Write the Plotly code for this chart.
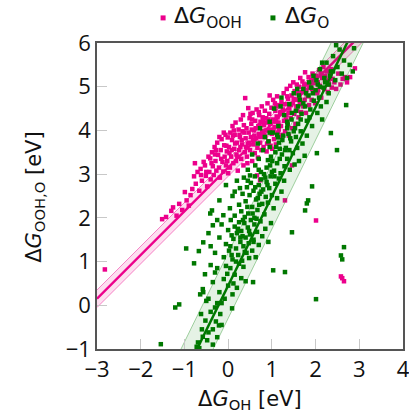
import plotly.graph_objects as go

# ---------------- data ----------------
ooh_x = [-2.82, 2.01, 2.58, 2.61, 2.65,
         -1.51, -1.42, -1.30, -1.26, -1.18, -1.12, -1.05, -0.99, -0.95, -0.90, -0.86, -0.82,
         -0.78, -0.76, -0.74, -0.70, -0.66, -0.63, -0.60, -0.56, -0.53, -0.51, -0.48, -0.45, -0.43, -0.41, -0.40,
         -0.37, -0.35, -0.33, -0.31, -0.29, -0.27, -0.25, -0.23, -0.21, -0.19, -0.17, -0.15, -0.13, -0.11, -0.09,
         -0.08, -0.06, -0.05, -0.03, -0.01, 0.00, -0.20, -0.30, -0.10, -0.02,
         0.02, 0.04, 0.05, 0.07, 0.09, 0.10, 0.12, 0.14, 0.15, 0.17, 0.19, 0.20, 0.22, 0.24, 0.25, 0.27, 0.29,
         0.30, 0.32, 0.33, 0.35, 0.36, 0.38, 0.39, 0.40, 0.08, 0.18, 0.28, 0.13, 0.34,
         0.42, 0.43, 0.45, 0.46, 0.47, 0.49, 0.50, 0.52, 0.53, 0.55, 0.56, 0.58, 0.59, 0.61, 0.62, 0.64, 0.65,
         0.66, 0.67, 0.69, 0.70, 0.71, 0.73, 0.73, 0.74, 0.76, 0.77, 0.78, 0.79, 0.44, 0.51, 0.57, 0.63, 0.68, 0.75,
         0.81, 0.82, 0.84, 0.85, 0.87, 0.88, 0.90, 0.91, 0.93, 0.94, 0.96, 0.97, 0.99, 1.00, 1.02, 1.03, 1.05,
         1.06, 1.08, 1.09, 1.11, 1.12, 1.14, 1.15, 1.17, 1.18, 1.19, 0.86, 0.95, 1.01, 1.07, 1.16,
         1.21, 1.22, 1.24, 1.25, 1.27, 1.28, 1.30, 1.30, 1.31, 1.33, 1.34, 1.36, 1.37, 1.39, 1.40, 1.42, 1.43,
         1.45, 1.46, 1.46, 1.48, 1.49, 1.51, 1.52, 1.54, 1.55, 1.57, 1.58, 1.59,
         1.61, 1.62, 1.64, 1.65, 1.67, 1.68, 1.70, 1.72, 1.73, 1.75, 1.76, 1.78, 1.80, 1.82, 1.84, 1.85, 1.87,
         1.89, 1.91, 1.93, 1.95, 1.97, 1.99,
         2.02, 2.04, 2.06, 2.08, 2.10, 2.13, 2.15, 2.18, 2.20, 2.23, 2.26, 2.28, 2.31, 2.34, 2.37, 2.39,
         2.43, 2.47, 2.52, 2.57, 2.62, 2.67, 2.72, 2.79, 2.90]
ooh_y = [0.82, 1.94, 0.66, 0.62, 0.55,
         1.97, 2.02, 2.16, 2.24, 2.05, 2.32, 2.18, 2.59, 2.40, 2.28, 2.52, 2.66,
         2.95, 3.25, 2.78, 3.05, 2.62, 3.12, 2.85, 3.28, 3.20, 2.96, 2.72, 3.40, 3.05, 3.36, 2.88,
         3.50, 3.18, 2.98, 3.62, 3.30, 3.08, 3.72, 3.44, 3.15, 2.92, 3.55, 3.80, 3.28, 3.06, 3.66,
         3.40, 3.90, 3.20, 3.52, 3.84, 3.02, 3.85, 3.45, 3.95, 3.30,
         3.62, 3.15, 3.95, 3.40, 3.78, 4.10, 3.25, 3.58, 3.90, 4.18, 3.45, 3.72, 3.08, 4.02, 3.55, 3.85, 4.25,
         3.35, 3.68, 3.98, 3.20, 4.12, 3.50, 4.74, 3.82, 3.55, 3.30, 3.62, 4.00, 4.35,
         4.05, 3.40, 3.70, 4.51, 3.95, 4.28, 3.55, 3.85, 4.15, 3.30, 4.40, 3.68, 4.00, 3.48, 4.22, 3.82, 4.48,
         2.97, 3.60, 4.10, 3.92, 4.35, 2.86, 3.72, 4.20, 3.55, 4.55, 3.98, 4.30, 3.25, 4.38, 3.78, 4.05, 3.38, 3.85,
         3.62, 4.12, 4.45, 3.85, 4.28, 3.52, 4.62, 4.00, 3.75, 4.38, 4.15, 3.65, 4.52, 3.92, 4.25, 4.70, 3.80,
         4.08, 4.45, 3.68, 4.32, 4.78, 3.95, 4.18, 4.58, 3.85, 4.40, 4.00, 4.80, 3.58, 4.62, 4.02,
         4.10, 4.65, 3.90, 4.48, 4.85, 4.22, 2.40, 3.98, 4.60, 4.35, 4.95, 4.12, 4.72, 3.88, 4.50, 5.02, 4.28,
         4.80, 3.20, 4.05, 4.62, 5.10, 4.38, 4.90, 4.15, 4.70, 5.05, 4.45, 4.85,
         4.30, 5.00, 4.60, 5.20, 4.42, 4.88, 5.12, 4.55, 4.95, 4.70, 5.33, 4.40, 5.05, 4.78, 5.22, 4.58, 4.98,
         5.15, 4.70, 5.30, 4.88, 5.08, 4.62,
         5.25, 4.85, 4.92, 5.38, 5.02, 4.75, 5.20, 5.45, 4.95, 5.12, 5.35, 4.88, 5.05, 5.28, 4.98, 5.18,
         5.10, 4.95, 5.30, 5.05, 5.18, 5.22, 5.10, 5.22, 5.42]
ooh_x_extra = [0.03, 0.11, 0.21, 0.31, 0.41, 0.48, 0.54, 0.60, 0.72, 0.80, 0.83, 0.89, 0.92, 0.98, 1.04,
               1.10, 1.13, 1.20, 1.26, 1.32, 1.38, 1.44, 1.50, 1.56, 1.63, 1.69, 1.74, 1.79, 1.86, 1.92,
               1.98, 2.05, 2.12, 2.22, 2.30, 2.36, -0.62, -0.50, -0.38, -0.28, -0.16, -0.04, 0.16, 0.26,
               0.37, 0.55, 0.70, 0.88, 1.10, 1.35]
ooh_y_extra = [3.48, 3.88, 3.40, 3.78, 3.62, 3.72, 4.02, 3.88, 4.12, 4.22, 3.90, 3.70, 4.25, 4.02, 3.98,
               4.55, 4.30, 4.42, 4.60, 4.25, 4.40, 4.58, 4.72, 4.55, 4.78, 4.62, 5.05, 4.92, 5.08, 4.95,
               5.18, 5.10, 5.30, 5.25, 5.15, 5.40, 2.98, 3.05, 3.25, 3.55, 3.35, 3.65, 3.70, 3.90,
               3.95, 4.25, 4.42, 4.18, 4.20, 4.78]

o_x = [-1.54, -1.21, -1.12, 2.01, 2.65, 2.58, 2.61, 1.92, 1.83, 1.80, 1.76, 2.03, 2.49, 2.35, 2.70, 2.88,
       1.46, 1.03, 1.30, -0.96, -0.78, -0.67, -0.57, -0.53, -0.37, -0.57, -0.41, -0.35,
       -0.69, -0.72, -0.66, -0.48, -0.25, -0.28, -0.21, -0.25, -0.60, -0.52, -0.45, -0.40, -0.35, -0.18, -0.62,
       -0.30, -0.58,
       -0.64, -0.58, -0.35, -0.45, -0.30, -0.20, -0.10, -0.15, 0.00, 0.09, 0.05, 0.15, 0.20, 0.25, -0.05, 0.10,
       0.30, 0.40, 0.57, -0.25, 0.35, -0.40, 0.12, -0.08,
       -0.45, -0.30, -0.20, -0.15, -0.10, -0.05, 0.00, 0.02, 0.06, 0.10, 0.12, 0.15, 0.18, 0.20, 0.23, 0.25,
       0.28, 0.30, 0.32, 0.35, 0.37, 0.40, 0.42, 0.45, 0.47, 0.50, 0.52, 0.55, 0.58, 0.60, 0.63, 0.66, 0.70,
       0.74, 0.78, 0.85, 0.92, 0.98, -0.25, 0.08, 0.33, 0.48, 0.65, -0.40,
       -0.11, 0.04, 0.27, 0.50, -0.20, -0.05, 0.10, 0.15, 0.20, 0.25, 0.30, 0.33, 0.36, 0.40, 0.43, 0.46, 0.49,
       0.52, 0.55, 0.58, 0.61, 0.64, 0.67, 0.70, 0.72, 0.75, 0.78, 0.80, 0.83, 0.86, 0.88, 0.91, 0.94, 0.97,
       1.00, 1.04, 1.08, 1.12, 1.16, 1.22, 1.28, 0.38, 0.60, 0.85, 0.15, 0.68,
       0.73, 0.91, 1.14, 0.45, 0.55, 0.62, 0.68, 0.75, 0.80, 0.84, 0.88, 0.95, 0.98, 1.02, 1.05, 1.08, 1.12,
       1.16, 1.20, 1.23, 1.26, 1.29, 1.32, 1.35, 1.38, 1.41, 1.44, 1.48, 1.52, 1.55, 1.58, 1.62, 1.66, 1.70,
       1.75, 1.80, 0.95, 1.00, 1.18, 1.40, 0.70, 1.50,
       0.95, 1.05, 1.15, 1.22, 1.28, 1.35, 1.40, 1.45, 1.50, 1.55, 1.60, 1.64, 1.68, 1.72, 1.76, 1.80, 1.84,
       1.88, 1.92, 1.96, 2.00, 2.04, 2.08, 2.12, 2.18, 2.25, 2.30, 1.58, 1.90, 2.15,
       1.85, 1.95, 2.05, 2.10, 2.20, 2.25, 2.30, 2.35, 2.40, 2.45, 2.50, 2.55, 2.60, 2.65, 2.72, 2.78, 2.85, 2.47]
o_y = [-0.89, -0.05, 0.02, 0.14, 1.33, 1.14, 1.05, 2.72, 2.40, 2.33, 2.17, 3.48, 3.55, 3.94, 4.58, 5.88,
       1.67, 0.80, 0.76, 1.30, 0.96, 1.24, 1.44, 0.71, 2.17, 0.30, 2.10, 1.83,
       -0.85, -0.95, -0.98, -0.80, -0.73, -0.37, -0.46, 0.05, -0.55, -0.35, -0.62, -0.15, -0.90, -0.20, -0.20,
       -0.05, -0.72,
       0.25, 0.37, 0.53, 0.15, 0.75, 0.30, 0.60, 0.05, 0.45, -0.07, 0.85, 0.70, 0.40, 0.95, 0.90, 0.25,
       0.62, 0.55, 0.53, 0.85, 0.88, 0.92, 0.50, 0.15,
       1.65, 1.20, 1.55, 1.85, 1.10, 1.40, 1.72, 1.25, 1.95, 1.05, 1.52, 1.80, 1.30, 1.65, 1.15, 1.90,
       1.45, 1.70, 1.02, 1.35, 1.88, 1.55, 1.20, 1.78, 1.42, 1.62, 1.95, 1.25, 1.50, 1.85, 1.10, 1.68, 1.38,
       1.92, 1.58, 1.75, 1.45, 1.88, 1.95, 1.60, 1.58, 1.08, 1.98, 1.35,
       2.06, 2.22, 2.68, 2.97, 2.40, 2.75, 2.50, 2.05, 2.85, 2.30, 2.15, 2.55, 2.92, 2.38, 2.70, 2.10, 2.52,
       2.80, 2.25, 2.62, 2.95, 2.42, 2.18, 2.75, 2.55, 2.88, 2.32, 2.65, 2.08, 2.48, 2.82, 2.35, 2.68, 2.95,
       2.52, 2.22, 2.78, 2.45, 2.90, 2.60, 2.85, 2.02, 2.00, 2.92, 2.60, 2.45,
       4.05, 3.32, 3.84, 3.10, 3.45, 3.20, 3.70, 3.05, 3.55, 3.85, 3.15, 3.62, 3.40, 3.95, 3.08, 3.50, 3.25,
       3.72, 3.02, 3.45, 3.88, 3.18, 3.60, 3.35, 3.92, 3.10, 3.75, 3.48, 3.22, 3.85, 3.60, 3.30, 3.98, 3.70,
       3.42, 3.88, 3.95, 3.05, 3.58, 3.55, 3.35, 3.98,
       4.20, 4.50, 4.10, 4.75, 4.35, 4.05, 4.60, 4.25, 4.85, 4.45, 4.15, 4.70, 4.38, 4.95, 4.55, 4.22, 4.80,
       4.48, 4.10, 4.68, 4.92, 4.40, 4.75, 4.55, 4.98, 4.65, 4.85, 4.95, 4.98, 4.25,
       5.10, 5.25, 5.05, 5.40, 5.20, 5.55, 5.05, 5.35, 5.70, 5.15, 5.45, 5.85, 5.30, 5.60, 5.20, 5.50, 5.35, 5.95]
o_x_extra = [0.22, 0.34, 0.44, 0.56, 0.62, 0.71, 0.76, 0.82, 0.90, 0.96, 1.01, 1.06, 1.10, 1.18, 1.24,
             1.30, 1.36, 1.42, 1.46, 1.53, 1.60, 1.66, 1.72, 1.78, 1.86, 1.94, 2.02, 2.10, 2.22, 2.33,
             0.05, 0.18, 0.28, 0.38, 0.48, 0.58, -0.02, 0.08, -0.35, -0.50, -0.15, 0.45, 0.70, 1.12,
             1.35, 1.62, 2.15, 2.40, 0.92, 1.20]
o_y_extra = [1.75, 1.95, 2.25, 2.10, 2.70, 2.30, 2.60, 3.00, 2.75, 3.20, 3.30, 2.95, 3.62, 3.35, 3.78,
             3.55, 4.15, 3.82, 4.40, 4.05, 4.55, 4.25, 4.62, 4.85, 4.30, 4.85, 5.15, 5.00, 5.10, 5.25,
             1.35, 1.00, 1.55, 1.22, 1.70, 1.45, 0.72, 1.15, -0.55, 0.10, -0.45, 2.85, 3.10, 3.90,
             4.20, 4.80, 5.55, 5.35, 3.75, 4.55]

# regression fits (slope, intercept, band half-height)
ooh_fit = (1.00, 3.15, 0.20)
o_fit = (2.04, 0.45, 0.75)
fit_x = [-3.0, 4.0]

legend_names = ["Δ<i>G</i><sub>OOH</sub>", "Δ<i>G</i><sub>O</sub>"]
x_title = "Δ<i>G</i><sub>OH</sub> [eV]"
y_title = "Δ<i>G</i><sub>OOH,O</sub> [eV]"
x_ticks = [-3, -2, -1, 0, 1, 2, 3, 4]
y_ticks = [-1, 0, 1, 2, 3, 4, 5, 6]

PINK = "#EC008C"
GREEN = "#007800"
TITLE_FONT = "DejaVu Sans"

fig = go.Figure()


def add_fit(fit, color, fill, edge, width):
    m, b, h = fit
    xs = fit_x
    up = [m * x + b + h for x in xs]
    lo = [m * x + b - h for x in xs]
    fig.add_trace(go.Scatter(x=xs + xs[::-1], y=up + lo[::-1], fill="toself", fillcolor=fill,
                             mode="lines", line=dict(color="rgba(0,0,0,0)", width=0),
                             showlegend=False, hoverinfo="skip"))
    fig.add_trace(go.Scatter(x=xs, y=up, mode="lines", line=dict(color=edge, width=1),
                             showlegend=False, hoverinfo="skip"))
    fig.add_trace(go.Scatter(x=xs, y=lo, mode="lines", line=dict(color=edge, width=1),
                             showlegend=False, hoverinfo="skip"))
    fig.add_trace(go.Scatter(x=xs, y=[m * x + b for x in xs], mode="lines",
                             line=dict(color=color, width=width),
                             showlegend=False, hoverinfo="skip"))


add_fit(ooh_fit, PINK, "rgba(236,0,140,0.13)", "rgba(236,0,140,0.45)", 2.5)

fig.add_trace(go.Scatter(x=ooh_x + ooh_x_extra, y=ooh_y + ooh_y_extra, mode="markers",
                         name=legend_names[0], showlegend=False,
                         marker=dict(symbol="square", size=4.5, color=PINK, line=dict(width=0))))

add_fit(o_fit, GREEN, "rgba(0,128,0,0.10)", "rgba(0,128,0,0.35)", 2.5)

fig.add_trace(go.Scatter(x=o_x + o_x_extra, y=o_y + o_y_extra, mode="markers",
                         name=legend_names[1], showlegend=False,
                         marker=dict(symbol="square", size=4.5, color=GREEN, line=dict(width=0))))

# manual legend (marker squares + labels) above the plot
leg_items = [(PINK, 0.216, 0.245, legend_names[0]), (GREEN, 0.575, 0.608, legend_names[1])]
for col, xm, xt, txt in leg_items:
    fig.add_shape(type="rect", xref="paper", yref="paper", xsizemode="pixel", ysizemode="pixel",
                  xanchor=xm, yanchor=1.082, x0=-2.5, x1=2.5, y0=-2.5, y1=2.5,
                  fillcolor=col, line=dict(width=0))
    fig.add_annotation(xref="paper", yref="paper", x=xt, y=1.082, xanchor="left", yanchor="middle",
                       text=txt, showarrow=False, font=dict(family=TITLE_FONT, size=22, color="#111111"))

fig.add_annotation(xref="paper", yref="paper", x=0.5, y=-0.168, xanchor="center", yanchor="middle",
                   text=x_title, showarrow=False, font=dict(family=TITLE_FONT, size=21, color="#111111"))
fig.add_annotation(xref="paper", yref="paper", x=-0.203, y=0.497, xanchor="center", yanchor="middle",
                   text=y_title, textangle=-90, showarrow=False,
                   font=dict(family=TITLE_FONT, size=21, color="#111111"))

axis_common = dict(showgrid=False, zeroline=False, showline=True, linecolor="#555555", linewidth=1.5,
                   mirror=True, ticks="inside", ticklen=10, tickcolor="#c8c8c8", tickwidth=1,
                   automargin=False, ticklabeloverflow="allow",
                   tickfont=dict(family="Open Sans", size=22, color="#111111"))

fig.update_layout(
    width=409, height=418,
    margin=dict(l=97, r=6, t=43, b=69),
    paper_bgcolor="white", plot_bgcolor="white",
    font=dict(family="Open Sans", color="#111111", size=20),
    showlegend=False,
    xaxis=dict(range=[-3, 4], tickvals=x_ticks, **axis_common),
    yaxis=dict(range=[-1, 6], tickvals=y_ticks, **axis_common),
)

fig.write_html("out.html", config={"displayModeBar": False},
               post_script="document.body.style.margin='0px';document.body.style.overflow='hidden';")
